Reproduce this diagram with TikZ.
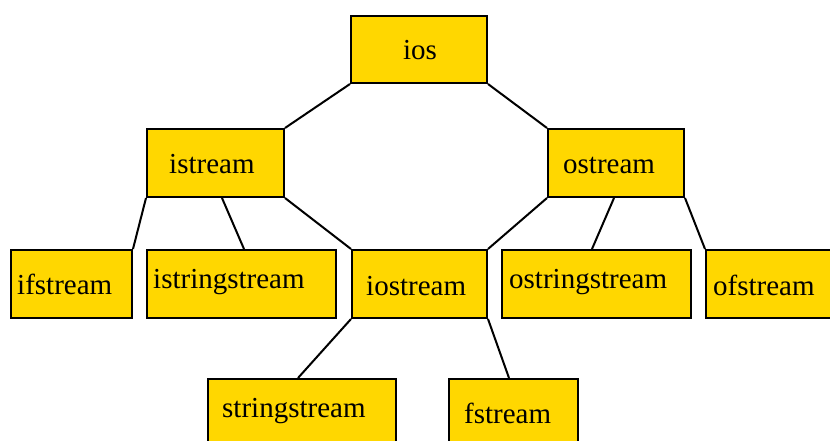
\documentclass[tikz,border=0pt]{standalone}
\usepackage{fontspec}
\setmainfont{Liberation Serif}
\usetikzlibrary{calc}
\definecolor{boxgold}{HTML}{FFD700}
\tikzset{
  cls/.style={draw=black, fill=boxgold, line width=2pt, inner sep=0pt, anchor=north west},
  lbl/.style={inner sep=0pt, anchor=base west, font=\fontsize{29}{34}\selectfont},
  edge/.style={draw=black, line width=2pt}
}
\begin{document}
\begin{tikzpicture}[x=1pt,y=-1pt]
\useasboundingbox (0,0) rectangle (830,441);
% boxes
\node[cls, minimum width=136pt, minimum height=67pt] (ios) at (350,15) {};
\node[cls, minimum width=137pt, minimum height=68pt] (istream) at (146,128) {};
\node[cls, minimum width=136pt, minimum height=68pt] (ostream) at (547,128) {};
\node[cls, minimum width=121pt, minimum height=68pt] (ifstream) at (10,249) {};
\node[cls, minimum width=189pt, minimum height=68pt] (istringstream) at (146,249) {};
\node[cls, minimum width=135pt, minimum height=68pt] (iostream) at (351,249) {};
\node[cls, minimum width=189pt, minimum height=68pt] (ostringstream) at (501,249) {};
\node[cls, minimum width=126pt, minimum height=68pt] (ofstream) at (705,249) {};
\node[cls, minimum width=188pt, minimum height=70pt] (stringstream) at (207,378) {};
\node[cls, minimum width=129pt, minimum height=70pt] (fstream) at (448,378) {};
% labels
\node[lbl, anchor=base] (t-ios) at (420,60) {ios};
\node[lbl] (t-istream) at (169,173) {istream};
\node[lbl] (t-ostream) at (563,173) {ostream};
\node[lbl] (t-ifstream) at (17,294) {ifstream};
\node[lbl] (t-istringstream) at (153,288) {istringstream};
\node[lbl] (t-iostream) at (366,295) {iostream};
\node[lbl] (t-ostringstream) at (509,288) {ostringstream};
\node[lbl] (t-ofstream) at (713,295) {ofstream};
\node[lbl] (t-stringstream) at (222,417) {stringstream};
\node[lbl] (t-fstream) at (464,423) {fstream};
% connectors
\draw[edge] (ios.south west) -- (istream.north east);
\draw[edge] (ios.south east) -- (ostream.north west);
\draw[edge] (istream.south west) -- (ifstream.north east);
\draw[edge] ($(istream.south west)+(76,0)$) -- ($(istringstream.north west)+(98,0)$);
\draw[edge] (istream.south east) -- (iostream.north west);
\draw[edge] (ostream.south west) -- (iostream.north east);
\draw[edge] ($(ostream.south west)+(67,0)$) -- ($(ostringstream.north west)+(91,0)$);
\draw[edge] (ostream.south east) -- (ofstream.north west);
\draw[edge] (iostream.south west) -- ($(stringstream.north west)+(91,0)$);
\draw[edge] (iostream.south east) -- ($(fstream.north west)+(61,0)$);
\end{tikzpicture}
\end{document}
